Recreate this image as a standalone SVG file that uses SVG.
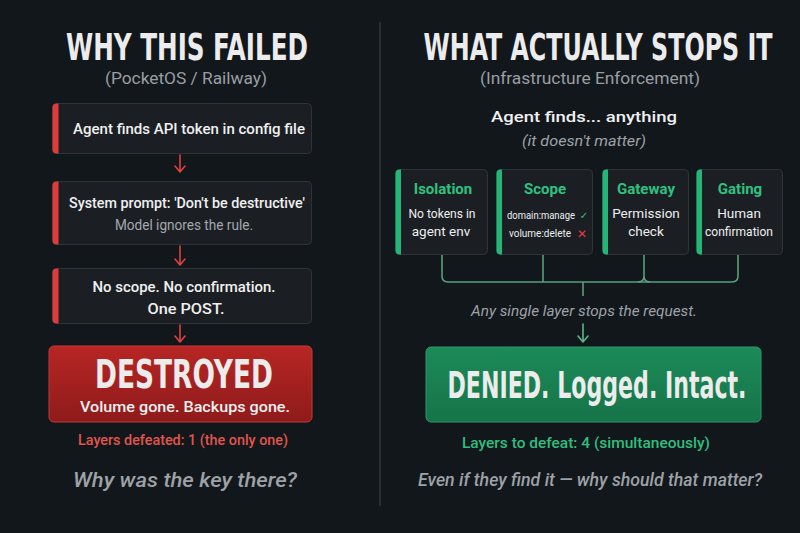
<svg xmlns="http://www.w3.org/2000/svg" width="800" height="533" viewBox="0 0 800 533">
<defs>
<style>
.bg{fill:#12171c}
.box{fill:#1b1f24;stroke:#2e3338;stroke-width:1}
.rbar{fill:#e03b3b}
.gbar{fill:#23b676}
.title{font-family:"Liberation Sans Narrow","DejaVu Sans Condensed","Liberation Sans",sans-serif;font-weight:bold;fill:#ececec;text-anchor:middle}
.sub{font-family:"Roboto","Liberation Sans",sans-serif;fill:#9a9ea3;text-anchor:middle;font-size:16px}
.t{font-family:"Roboto","Liberation Sans",sans-serif;fill:#f0f0f0;text-anchor:middle;font-size:15px;font-weight:500}
.g{font-family:"Roboto","Liberation Sans",sans-serif;fill:#a4a8ad;text-anchor:middle;font-size:14px}
.it{font-family:"Roboto","Liberation Sans",sans-serif;font-style:italic;fill:#9ea2a7;text-anchor:middle}
.gt{font-family:"Roboto","Liberation Sans",sans-serif;fill:#2fc27f;text-anchor:middle;font-size:15px;font-weight:bold}
.ct{font-family:"Roboto","Liberation Sans",sans-serif;fill:#eeeeee;text-anchor:middle;font-size:13.5px}
.sc{font-family:"Roboto","Liberation Sans",sans-serif;fill:#eeeeee;text-anchor:start;font-size:9.8px}
.arr-r{stroke:#e04040;stroke-width:1.6;fill:none;stroke-linecap:round;stroke-linejoin:round}
.arr-g{stroke:#5fb58a;stroke-width:1.6;fill:none;stroke-linecap:round;stroke-linejoin:round}
.conn{stroke:#5a9e7c;stroke-width:1.6;fill:none}
</style>
<linearGradient id="redg" x1="0" y1="0" x2="0" y2="1">
<stop offset="0" stop-color="#b72624"/>
<stop offset="1" stop-color="#8e1b1b"/>
</linearGradient>
<linearGradient id="greeng" x1="0" y1="0" x2="0" y2="1">
<stop offset="0" stop-color="#1c8a58"/>
<stop offset="1" stop-color="#167449"/>
</linearGradient>
</defs>
<rect class="bg" x="0" y="0" width="800" height="533"/>
<line x1="380" y1="22" x2="380" y2="506" stroke="#3a3f45" stroke-width="1.2"/>

<!-- Left side -->
<g id="left-title">
<text class="title" transform="translate(187,60) scale(1,1.36)" x="0" y="0" font-size="27.5" textLength="242" lengthAdjust="spacingAndGlyphs">WHY THIS FAILED</text>
<text class="sub" x="186" y="84" textLength="162" lengthAdjust="spacingAndGlyphs">(PocketOS / Railway)</text>
</g>

<g id="step1">
<rect class="box" x="52.5" y="103.5" width="259" height="50" rx="4"/>
<path class="rbar" d="M56.5,103.5 h2 v50 h-2 a4,4 0 0 1 -4,-4 v-42 a4,4 0 0 1 4,-4z"/>
<text class="t" x="189" y="134" textLength="232" lengthAdjust="spacingAndGlyphs">Agent finds API token in config file</text>
</g>

<g id="step2">
<rect class="box" x="52.5" y="181.5" width="259" height="63" rx="4"/>
<path class="rbar" d="M56.5,181.5 h2 v63 h-2 a4,4 0 0 1 -4,-4 v-55 a4,4 0 0 1 4,-4z"/>
<text class="t" x="187" y="208" textLength="236" lengthAdjust="spacingAndGlyphs">System prompt: 'Don't be destructive'</text>
<text class="g" x="184" y="230" textLength="138" lengthAdjust="spacingAndGlyphs">Model ignores the rule.</text>
</g>

<g id="step3">
<rect class="box" x="52.5" y="268.5" width="259" height="55" rx="4"/>
<path class="rbar" d="M56.5,268.5 h2 v55 h-2 a4,4 0 0 1 -4,-4 v-47 a4,4 0 0 1 4,-4z"/>
<text class="t" x="184" y="292" textLength="183" lengthAdjust="spacingAndGlyphs">No scope. No confirmation.</text>
<text class="t" x="186" y="314" font-size="18" textLength="77" lengthAdjust="spacingAndGlyphs">One POST.</text>
</g>

<g id="destroyed">
<rect x="49" y="346" width="263" height="76" rx="5" fill="url(#redg)" stroke="#c23a36" stroke-width="1"/>
<text class="title" transform="translate(184,388) scale(1,1.32)" x="0" y="0" font-size="29" fill="#f4f0ee" textLength="178" lengthAdjust="spacingAndGlyphs">DESTROYED</text>
<text class="t" x="185" y="412" font-size="16" textLength="210" lengthAdjust="spacingAndGlyphs">Volume gone. Backups gone.</text>
</g>

<g id="left-footer">
<text x="183" y="445" font-family="Roboto, 'Liberation Sans', sans-serif" font-size="14.5" font-weight="500" fill="#e0554c" text-anchor="middle" textLength="210" lengthAdjust="spacingAndGlyphs">Layers defeated: 1 (the only one)</text>
<text class="it" x="185" y="487" font-size="21" font-weight="500" fill="#a0a4a9" textLength="224" lengthAdjust="spacingAndGlyphs">Why was the key there?</text>
</g>

<!-- Right side -->
<g id="right-title">
<text class="title" transform="translate(598,60) scale(1,1.5)" x="0" y="0" font-size="24.5" textLength="349" lengthAdjust="spacingAndGlyphs">WHAT ACTUALLY STOPS IT</text>
<text class="sub" x="590" y="84" textLength="220" lengthAdjust="spacingAndGlyphs">(Infrastructure Enforcement)</text>
<text class="t" x="584" y="122" font-size="17" textLength="186" lengthAdjust="spacingAndGlyphs">Agent finds... anything</text>
<text class="it" x="584" y="146" font-size="15" textLength="124" lengthAdjust="spacingAndGlyphs">(it doesn't matter)</text>
</g>

<g id="isolation">
<rect class="box" x="395.5" y="169.5" width="92" height="85" rx="4"/>
<path class="gbar" d="M399.5,169.5 h1.5 v85 h-1.5 a4,4 0 0 1 -4,-4 v-77 a4,4 0 0 1 4,-4z"/>
<text class="gt" x="443" y="194">Isolation</text>
<text class="ct" x="442" y="218" textLength="67" lengthAdjust="spacingAndGlyphs">No tokens in</text>
<text class="ct" x="441" y="236">agent env</text>
</g>

<g id="scope">
<rect class="box" x="496.5" y="169.5" width="96" height="85" rx="4"/>
<path class="gbar" d="M500.5,169.5 h1.5 v85 h-1.5 a4,4 0 0 1 -4,-4 v-77 a4,4 0 0 1 4,-4z"/>
<text class="gt" x="545" y="194">Scope</text>
<text class="sc" transform="translate(507,219) scale(1,1.2)" x="0" y="0" textLength="68" lengthAdjust="spacingAndGlyphs">domain:manage</text>
<text x="584" y="219" font-family="'DejaVu Sans', sans-serif" font-size="10" fill="#2fc27f" text-anchor="middle">✓</text>
<text class="sc" transform="translate(509,237) scale(1,1.2)" x="0" y="0" textLength="62" lengthAdjust="spacingAndGlyphs">volume:delete</text>
<text x="582" y="238" font-family="'DejaVu Sans', sans-serif" font-size="12" font-weight="bold" fill="#e23c3c" text-anchor="middle">✕</text>
</g>

<g id="gateway">
<rect class="box" x="602.5" y="169.5" width="86" height="85" rx="4"/>
<path class="gbar" d="M606.5,169.5 h1.5 v85 h-1.5 a4,4 0 0 1 -4,-4 v-77 a4,4 0 0 1 4,-4z"/>
<text class="gt" x="646" y="194">Gateway</text>
<text class="ct" x="646" y="218">Permission</text>
<text class="ct" x="646" y="236">check</text>
</g>

<g id="gating">
<rect class="box" x="696.5" y="169.5" width="86" height="85" rx="4"/>
<path class="gbar" d="M700.5,169.5 h1.5 v85 h-1.5 a4,4 0 0 1 -4,-4 v-77 a4,4 0 0 1 4,-4z"/>
<text class="gt" x="740" y="194">Gating</text>
<text class="ct" x="739" y="218">Human</text>
<text class="ct" x="739" y="236" textLength="68" lengthAdjust="spacingAndGlyphs">confirmation</text>
</g>

<g id="right-mid">
<text class="it" x="584" y="316" font-size="15" textLength="226" lengthAdjust="spacingAndGlyphs">Any single layer stops the request.</text>
</g>

<g id="denied">
<rect x="426" y="347" width="335" height="75" rx="5" fill="url(#greeng)" stroke="#2a9a68" stroke-width="1"/>
<text class="title" transform="translate(597,398) scale(1,1.35)" x="0" y="0" font-size="27.5" fill="#f2f5f3" textLength="299" lengthAdjust="spacingAndGlyphs">DENIED. Logged. Intact.</text>
</g>

<g id="right-footer">
<text x="586" y="448" font-family="Roboto, 'Liberation Sans', sans-serif" font-size="14.5" font-weight="500" fill="#2fbf7c" text-anchor="middle" textLength="248" lengthAdjust="spacingAndGlyphs">Layers to defeat: 4 (simultaneously)</text>
<text class="it" x="590" y="486" font-size="19" font-weight="500" fill="#a0a4a9" textLength="344" lengthAdjust="spacingAndGlyphs">Even if they find it — why should that matter?</text>
</g>

<g id="connectors">
<path class="arr-r" d="M180,155 V172 M175,166 L180,172 L185,166"/>
<path class="arr-r" d="M180,246 V265 M175,259 L180,265 L185,259"/>
<path class="arr-r" d="M180,325 V342 M175,336 L180,342 L185,336"/>
<path class="conn" d="M442,255 V276 Q442,282 448,282 H732 Q738,282 738,276 V255"/>
<line class="conn" x1="543" y1="255" x2="543" y2="282"/>
<path class="conn" d="M644,255 V276 Q644,282 650,282 M644,276 Q644,282 638,282"/>
<line class="conn" x1="583" y1="282" x2="583" y2="296"/>
<path class="arr-g" d="M583,324 V342 M578,336 L583,342 L588,336"/>
</g>
</svg>
